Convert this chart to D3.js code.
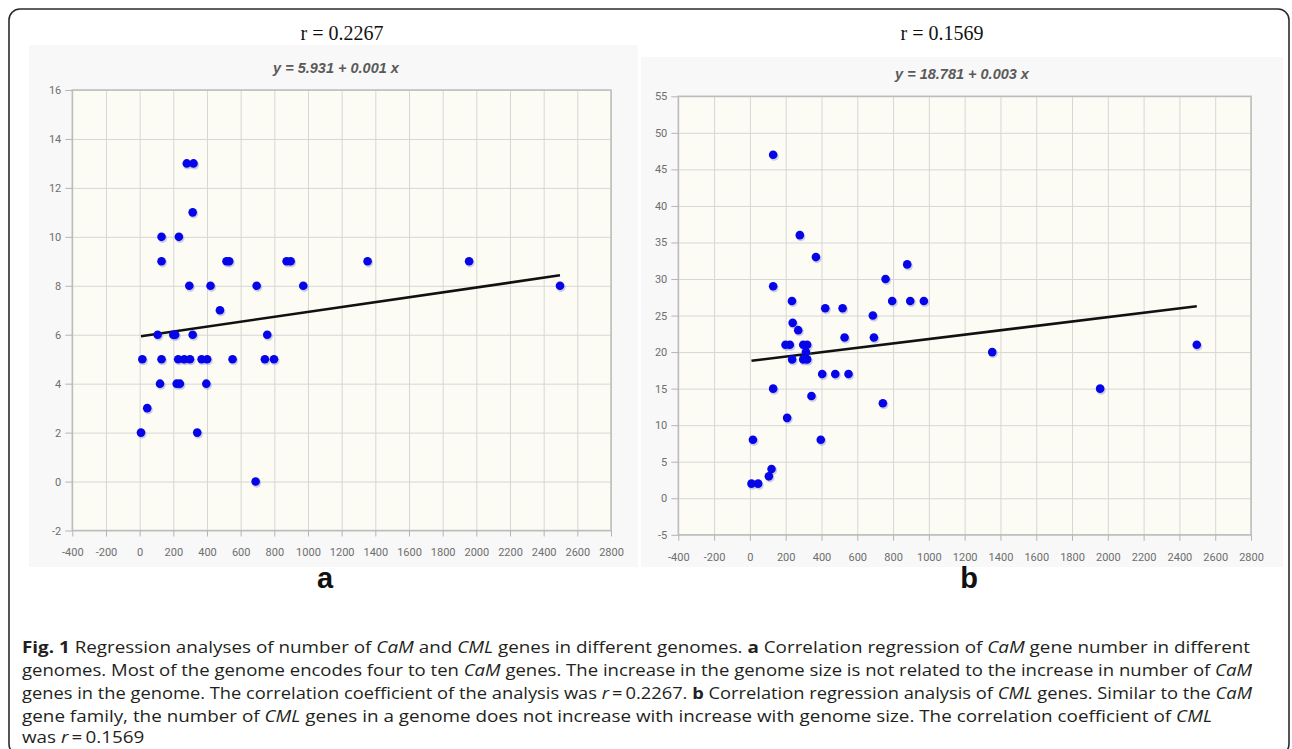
<!DOCTYPE html>
<html>
<head>
<meta charset="utf-8">
<script src="https://cdn.jsdelivr.net/npm/d3@7"></script>
<style>
  body { margin: 0; background: #fff; }
  svg { display: block; }
</style>
</head>
<body>
<svg width="1292" height="749"></svg>
<script>
var width = 1292;
var height = 749;

// shared axis ticks
var xTickValues = [-400, -200, 0, 200, 400, 600, 800, 1000, 1200, 1400, 1600, 1800, 2000, 2200, 2400, 2600, 2800];
var yTicksA = [-2, 0, 2, 4, 6, 8, 10, 12, 14, 16];
var yTicksB = [-5, 0, 5, 10, 15, 20, 25, 30, 35, 40, 45, 50, 55];

// panel a : CaM genes vs genome size
var genomeSizeA = [280, 320, 315, 130, 233, 130, 516, 532, 873, 897, 1354, 1957,
                   295, 421, 695, 972, 2497, 477, 107, 200, 211, 315, 758,
                   16, 130, 229, 265, 299, 368, 401, 552, 744, 798,
                   121, 220, 239, 396, 45, 8, 342, 689];
var camGenes    = [13, 13, 11, 10, 10, 9, 9, 9, 9, 9, 9, 9,
                   8, 8, 8, 8, 8, 7, 6, 6, 6, 6, 6,
                   5, 5, 5, 5, 5, 5, 5, 5, 5, 5,
                   4, 4, 4, 4, 3, 2, 2, 0];
var fitA = [5.931, 0.001];

// panel b : CML genes vs genome size
var genomeSizeB = [130, 279, 369, 879, 758, 130, 235, 795, 896, 972, 421, 518,
                   687, 239, 270, 529, 693, 199, 223, 298, 320, 2497, 313, 1354,
                   236, 298, 320, 404, 477, 551, 130, 1957, 344, 743, 208,
                   17, 396, 121, 106, 9, 46];
var cmlGenes    = [47, 36, 33, 32, 30, 29, 27, 27, 27, 27, 26, 26,
                   25, 24, 23, 22, 22, 21, 21, 21, 21, 21, 20, 20,
                   19, 19, 19, 17, 17, 17, 15, 15, 14, 13, 11,
                   8, 8, 4, 3, 2, 2];
var fitB = [18.781, 0.003];

var captionLines = [
  [["b", "Fig. 1"], ["", " Regression analyses of number of "], ["i", "CaM"], ["", " and "], ["i", "CML"],
   ["", " genes in different genomes. "], ["b", "a"], ["", " Correlation regression of "], ["i", "CaM"],
   ["", " gene number in different"]],
  [["", "genomes. Most of the genome encodes four to ten "], ["i", "CaM"],
   ["", " genes. The increase in the genome size is not related to the increase in number of "], ["i", "CaM"]],
  [["", "genes in the genome. The correlation coefficient of the analysis was "], ["i", "r"], ["", "\u2009=\u20090.2267. "],
   ["b", "b"], ["", " Correlation regression analysis of "], ["i", "CML"], ["", " genes. Similar to the "], ["i", "CaM"]],
  [["", "gene family, the number of "], ["i", "CML"],
   ["", " genes in a genome does not increase with increase with genome size. The correlation coefficient of "], ["i", "CML"]],
  [["", "was "], ["i", "r"], ["", "\u2009=\u20090.1569"]]
];

var svg = d3.select("svg")
    .attr("width", width)
    .attr("height", height);

svg.append("rect")
    .attr("width", width)
    .attr("height", height)
    .attr("fill", "#fff");

// outer frame of the figure
svg.append("rect")
    .attr("x", 9)
    .attr("y", 9)
    .attr("width", 1280)
    .attr("height", 746)
    .attr("rx", 11)
    .attr("fill", "none")
    .attr("stroke", "#2b2b2b")
    .attr("stroke-width", 1.6);

function drawPanel(o) {
  var g = svg.append("g");

  g.append("rect")
      .attr("x", o.panel[0])
      .attr("y", o.panel[1])
      .attr("width", o.panel[2] - o.panel[0])
      .attr("height", o.panel[3] - o.panel[1])
      .attr("fill", "#f8f8f8");

  var x = d3.scaleLinear().domain([-400, 2800]).range([o.left, o.right]);
  var y = d3.scaleLinear().domain(d3.extent(o.yTicks)).range([o.bottom, o.top]);

  g.append("rect")
      .attr("x", o.left)
      .attr("y", o.top)
      .attr("width", o.right - o.left)
      .attr("height", o.bottom - o.top)
      .attr("fill", "#fdfcf4");

  // grid
  var gx = g.append("g")
      .attr("transform", "translate(0," + o.bottom + ")")
      .call(d3.axisBottom(x).tickValues(xTickValues).tickSize(-(o.bottom - o.top)).tickFormat(""));
  var gy = g.append("g")
      .attr("transform", "translate(" + o.left + ",0)")
      .call(d3.axisLeft(y).tickValues(o.yTicks).tickSize(-(o.right - o.left)).tickFormat(""));
  [gx, gy].forEach(function(s) {
    s.select(".domain").remove();
    s.selectAll("line").attr("stroke", "#d6d6d6").attr("stroke-width", 1);
  });

  g.append("rect")
      .attr("x", o.left)
      .attr("y", o.top)
      .attr("width", o.right - o.left)
      .attr("height", o.bottom - o.top)
      .attr("fill", "none")
      .attr("stroke", "#bdbdbd")
      .attr("stroke-width", 1.5);

  // axes with labels
  var ax = g.append("g")
      .attr("transform", "translate(0," + o.bottom + ")")
      .call(d3.axisBottom(x).tickValues(xTickValues).tickSize(6).tickPadding(12));
  var ay = g.append("g")
      .attr("transform", "translate(" + o.left + ",0)")
      .call(d3.axisLeft(y).tickValues(o.yTicks).tickSize(7).tickPadding(4));
  [ax, ay].forEach(function(s) {
    s.select(".domain").remove();
    s.selectAll("line").attr("stroke", "#b5b5b5");
    s.selectAll("text")
        .attr("fill", "#6e6e6e")
        .style("font-family", "Roboto, 'Liberation Sans', sans-serif")
        .style("font-size", "11px");
  });
  ax.selectAll("text").text(function(d) { return d; });
  ay.selectAll("text").text(function(d) { return d; });

  // regression line
  var xr = d3.extent(o.xs);
  g.append("line")
      .attr("x1", x(xr[0]))
      .attr("y1", y(o.fit[0] + o.fit[1] * xr[0]))
      .attr("x2", x(xr[1]))
      .attr("y2", y(o.fit[0] + o.fit[1] * xr[1]))
      .attr("stroke", "#111")
      .attr("stroke-width", 2.6);

  var pts = o.xs.map(function(v, i) { return [v, o.ys[i]]; });

  g.selectAll("circle.shadow")
    .data(pts)
    .enter()
    .append("circle")
      .attr("class", "shadow")
      .attr("cx", d => x(d[0]) + 1)
      .attr("cy", d => y(d[1]) + 1.5)
      .attr("r", 4.6)
      .attr("fill", "#7474d0")
      .attr("opacity", 0.35);

  g.selectAll("circle.dot")
    .data(pts)
    .enter()
    .append("circle")
      .attr("class", "dot")
      .attr("cx", d => x(d[0]))
      .attr("cy", d => y(d[1]))
      .attr("r", 4.3)
      .attr("fill", "#0505e8");

  g.append("text")
      .attr("x", o.eqX)
      .attr("y", o.eqY)
      .style("text-anchor", "middle")
      .style("font-family", "'Liberation Sans', Arial, sans-serif")
      .style("font-size", "14.5px")
      .style("font-weight", "bold")
      .style("font-style", "italic")
      .attr("fill", "#5a5a5a")
      .text(o.equation);

  svg.append("text")
      .attr("x", o.rX)
      .attr("y", 40)
      .style("text-anchor", "middle")
      .style("font-family", "'Liberation Serif', 'Times New Roman', serif")
      .style("font-size", "20px")
      .attr("fill", "#111")
      .text(o.rLabel);

  svg.append("text")
      .attr("x", o.tagX)
      .attr("y", 588)
      .style("text-anchor", "middle")
      .style("font-family", "'Liberation Sans', Arial, sans-serif")
      .style("font-size", "29px")
      .style("font-weight", "bold")
      .attr("fill", "#111")
      .text(o.tag);
}

drawPanel({
  panel: [29, 45, 638, 567],
  left: 72.3, right: 611, top: 90, bottom: 530.5,
  yTicks: yTicksA, xs: genomeSizeA, ys: camGenes, fit: fitA,
  equation: "y = 5.931 + 0.001 x", eqX: 336, eqY: 73,
  rLabel: "r = 0.2267", rX: 342, tag: "a", tagX: 325
});

drawPanel({
  panel: [641, 57, 1283, 567],
  left: 678.3, right: 1251, top: 96.3, bottom: 534.8,
  yTicks: yTicksB, xs: genomeSizeB, ys: cmlGenes, fit: fitB,
  equation: "y = 18.781 + 0.003 x", eqX: 962, eqY: 79,
  rLabel: "r = 0.1569", rX: 942, tag: "b", tagX: 969
});

// caption
var lineY = [653, 676, 699, 722, 743];
var lineEnd = [1250, 1252, 1252, 1212, null];
var capX = 22;
var factor = 1;

captionLines.forEach(function(parts, i) {
  var t = svg.append("text")
      .attr("x", capX)
      .attr("y", lineY[i])
      .style("font-family", "'Open Sans', 'Noto Sans', sans-serif")
      .style("font-size", "15.5px")
      .attr("fill", "#231f20");
  parts.forEach(function(p) {
    t.append("tspan")
        .style("font-weight", p[0] === "b" ? "bold" : "normal")
        .style("font-style", p[0] === "i" ? "italic" : "normal")
        .text(p[1]);
  });
  var natural = t.node().getComputedTextLength();
  if (lineEnd[i] !== null) {
    var target = lineEnd[i] - capX;
    if (i === 3) factor = target / natural;
    t.attr("textLength", target).attr("lengthAdjust", "spacingAndGlyphs");
  } else {
    t.attr("textLength", natural * factor).attr("lengthAdjust", "spacingAndGlyphs");
  }
});
</script>
</body>
</html>
